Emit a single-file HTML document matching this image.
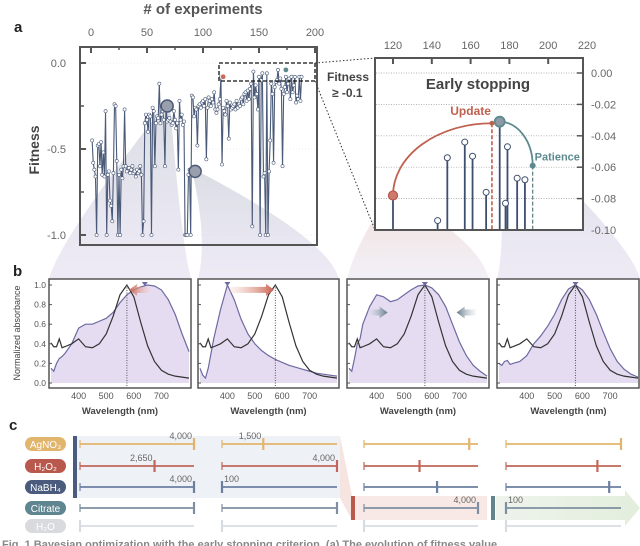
<!DOCTYPE html>
<html><head><meta charset="utf-8">
<style>
html,body{margin:0;padding:0;background:#fff;}
svg{display:block;font-family:"Liberation Sans",Arial,sans-serif;}
</style></head>
<body>
<svg id="fig" width="640" height="546" viewBox="0 0 640 546" xmlns="http://www.w3.org/2000/svg">
<defs>
<linearGradient id="gFan" x1="0" y1="0" x2="0" y2="1"><stop offset="0" stop-color="#cfd2dc" stop-opacity="0.75"/><stop offset="1" stop-color="#e3ddef" stop-opacity="0.6"/></linearGradient>
<linearGradient id="gFanR" x1="0" y1="0" x2="0" y2="1"><stop offset="0" stop-color="#e9c9c4" stop-opacity="0.6"/><stop offset="1" stop-color="#e6e2ee" stop-opacity="0.5"/></linearGradient>
<linearGradient id="gArrR" x1="0" y1="0" x2="1" y2="0"><stop offset="0" stop-color="#f3d6cc" stop-opacity="0.3"/><stop offset="1" stop-color="#c9604f"/></linearGradient>
<linearGradient id="gArrL" x1="1" y1="0" x2="0" y2="0"><stop offset="0" stop-color="#f3d6cc" stop-opacity="0.3"/><stop offset="1" stop-color="#c9604f"/></linearGradient>
<linearGradient id="gArrG" x1="0" y1="0" x2="1" y2="0"><stop offset="0" stop-color="#dde3e8" stop-opacity="0.3"/><stop offset="1" stop-color="#62788a"/></linearGradient>
<linearGradient id="gArrG2" x1="1" y1="0" x2="0" y2="0"><stop offset="0" stop-color="#dde3e8" stop-opacity="0.3"/><stop offset="1" stop-color="#62788a"/></linearGradient>
<linearGradient id="gGreen" x1="0" y1="0" x2="1" y2="0"><stop offset="0" stop-color="#eef3ec"/><stop offset="1" stop-color="#e3eedc"/></linearGradient>
</defs>
<g id="fans"></g>
<g id="main"></g>
<g id="inset"></g>
<g id="spectra"></g>
<g id="recipes"></g>
</svg>
<script>
// ---------- DATA ----------
const fitness = [-0.45,-0.58,-0.62,-0.66,-1.0,-0.48,-0.47,-0.60,-0.46,-0.65,
-0.52,-0.66,-0.28,-1.0,-0.65,-0.63,-0.80,-0.83,-0.92,-0.64,
-0.24,-0.25,-0.57,-1.0,-0.65,-1.0,-0.62,-0.67,-0.60,-0.27,
-0.60,-0.63,-0.61,-0.61,-0.64,-0.62,-0.60,-0.64,-0.63,-0.66,-0.62,-0.64,-0.63,-0.60,-0.65,
-1.0,-0.92,-0.35,-0.30,-0.33,-0.40,-0.30,-0.31,-1.0,-0.26,-0.28,-0.60,-0.35,-0.31,-0.32,
-0.12,-0.35,-0.30,-0.28,-0.33,-0.60,-0.24,-0.34,-0.33,-0.32,-0.34,-0.36,-0.35,-0.28,-0.33,
-0.38,-0.35,-0.62,-0.22,-0.33,-0.30,-0.36,-0.34,-1.0,-1.0,-1.0,-0.65,-0.62,-1.0,-0.19,
-0.20,-0.31,-0.26,-0.27,-0.48,-0.25,-0.24,-0.26,-0.23,-0.22,-0.25,-0.21,-0.56,-0.26,-0.20,
-0.22,-0.25,-0.21,-0.23,-0.17,-0.27,-0.29,-0.27,-0.24,-0.21,-0.08,-0.59,-0.26,-0.28,-0.30,
-0.22,-0.25,-0.44,-0.23,-0.27,-0.26,-0.25,-0.24,-0.27,-0.22,-0.26,-0.24,-0.25,-0.21,-0.20,
-0.24,-0.18,-0.17,-0.22,-0.16,-0.21,-0.15,-0.12,-0.95,-0.05,-0.20,-0.13,-0.18,-0.27,-0.08,
-1.0,-0.10,-0.06,-0.66,-0.64,-1.0,-0.06,-1.0,-0.63,-0.45,-0.12,-0.18,-0.58,-0.14,-0.11,
-0.10,-0.04,-0.12,-0.09,-0.15,-0.60,-0.18,-0.14,-0.08,-0.17,-0.12,-0.09,-0.21,-0.08,-0.17,
-0.13,-0.08,-0.23,-0.19,-0.21,-0.08,-0.22,-0.08];
const highlightX = [68, 93];
const highlightY = [-0.25, -0.63];
const mainXTicks = [0,50,100,150,200];
const mainYTicks = [0.0,-0.5,-1.0];
const mainYTickLabels = ["0.0","-0.5","-1.0"];

const insetX = [120,143,148,157,161,168,175,178,179,184,188];
const insetY = [-0.078,-0.094,-0.054,-0.044,-0.053,-0.076,-0.031,-0.083,-0.047,-0.067,-0.068];
const insetXTicks = [120,140,160,180,200,220];
const insetYTicks = [0,-0.02,-0.04,-0.06,-0.08,-0.10];
const insetYTickLabels = ["0.00","-0.02","-0.04","-0.06","-0.08","-0.10"];
const updateX = 171, patienceX = 192, patienceY = -0.059;

const wl = [300,310,320,330,340,350,375,400,425,450,475,500,525,550,575,600,625,650,675,700,725,750,775,800];
const refSpec = [.41,.37,.37,.45,.36,.37,.40,.45,.37,.36,.40,.50,.68,.90,1.0,.88,.62,.38,.22,.13,.09,.07,.06,.05];
const spec1 = [.15,.12,.20,.25,.27,.30,.40,.56,.60,.60,.63,.66,.72,.82,.90,.95,.98,1.0,.99,.95,.85,.70,.50,.32];
const spec2 = [.15,.08,.05,.15,.30,.45,.75,1.0,.85,.65,.50,.40,.33,.28,.24,.21,.18,.16,.14,.12,.10,.09,.08,.07];
const spec3 = [.15,.12,.25,.40,.45,.60,.78,.90,.88,.83,.85,.90,.95,.99,1.0,.97,.90,.78,.60,.42,.28,.18,.12,.07];
const spec4 = [.20,.18,.22,.23,.19,.20,.22,.28,.40,.48,.58,.70,.85,.96,1.0,.95,.85,.70,.52,.35,.22,.14,.09,.06];
const specPeaks = [640,400,575,575];
const wlTicks = [400,500,600,700];
const absTicks = [0,0.2,0.4,0.6,0.8,1.0];

const reagents = ["AgNO₃","H₂O₂","NaBH₄","Citrate","H₂O"];
const recipeVals = [[4000,1500,3700,4000],[2650,4000,2000,3200],[4000,100,2600,3600],[4000,4000,4000,100],[100,100,100,100]];
const recipeLabels = [["4,000","1,500","",""],["2,650","4,000","",""],["4,000","100","",""],["","","4,000","100"],["","","",""]];

// ---------- HELPERS ----------
const NS="http://www.w3.org/2000/svg";
function mk(parent,tag,attrs,text){const e=document.createElementNS(NS,tag);for(const k in attrs)e.setAttribute(k,attrs[k]);if(text!==undefined)e.textContent=text;parent.appendChild(e);return e;}

// ---------- MAIN CHART ----------
const main=document.getElementById('main');
const mx=v=>91+v*1.12, my=v=>63-v*172;
mk(main,'text',{x:203,y:14,'text-anchor':'middle','font-size':15,'font-weight':'bold',fill:'#555',},'# of experiments');
mk(main,'text',{x:14,y:32,'font-size':15,'font-weight':'bold',fill:'#222',},'a');
mk(main,'text',{x:0,y:0,transform:'translate(39,150) rotate(-90)','text-anchor':'middle','font-size':14,'font-weight':'bold',fill:'#444',},'Fitness');
mainXTicks.forEach(t=>{const e=mk(main,'text',{x:mx(t),y:36,'text-anchor':'middle','font-size':11,fill:'#666'},String(t));
 mk(main,'line',{x1:mx(t),x2:mx(t),y1:47,y2:53,stroke:'#555','stroke-width':2});});
[25,75,125,175].forEach(t=>mk(main,'line',{x1:mx(t),x2:mx(t),y1:47,y2:50,stroke:'#555','stroke-width':1.5}));
mainYTicks.forEach((t,i)=>{mk(main,'line',{x1:80,x2:86,y1:my(t),y2:my(t),stroke:'#555','stroke-width':2});
 mk(main,'line',{x1:86,x2:316,y1:my(t),y2:my(t),stroke:'#ddd','stroke-width':0.6,'stroke-dasharray':'1,2'});
 const e=mk(main,'text',{x:66,y:my(t)+4,'text-anchor':'end','font-size':11,fill:'#666'},mainYTickLabels[i]);});
[-0.25,-0.75].forEach(t=>mk(main,'line',{x1:80,x2:84,y1:my(t),y2:my(t),stroke:'#555','stroke-width':1.5}));
let pts=fitness.map((v,i)=>mx(i+1)+','+my(v)).join(' ');
const ln=mk(main,'polyline',{points:pts,fill:'none',stroke:'#4a5a78','stroke-width':1.1});

fitness.forEach((v,i)=>{const c=mk(main,'circle',{cx:mx(i+1),cy:my(v),r:1.6,fill:'#fff',stroke:'#4a5a78','stroke-width':0.6});
 });
highlightX.forEach((x,i)=>{const c=mk(main,'circle',{cx:mx(x),cy:my(highlightY[i]),r:6,fill:'#999fab',stroke:'#4a5a78','stroke-width':1.5});
 });
mk(main,'circle',{cx:mx(118),cy:my(-0.08),r:2.8,fill:'#c86a5c',stroke:'#fff','stroke-width':0.8,});
mk(main,'circle',{cx:mx(174),cy:my(-0.04),r:2.8,fill:'#5c8a8e',stroke:'#fff','stroke-width':0.8,});
mk(main,'rect',{x:80,y:47,width:237,height:198,fill:'none',stroke:'#555','stroke-width':2,});
mk(main,'rect',{x:219,y:63,width:96,height:18,fill:'none',stroke:'#111','stroke-width':1.3,'stroke-dasharray':'4,2',});
mk(main,'line',{x1:315,y1:63,x2:375,y2:58,stroke:'#333','stroke-dasharray':'1.5,2'});
mk(main,'line',{x1:315,y1:81,x2:375,y2:230,stroke:'#333','stroke-dasharray':'1.5,2'});
mk(main,'text',{x:327,y:81,'font-size':12,'font-weight':'bold',fill:'#444',},'Fitness');
mk(main,'text',{x:332,y:97,'font-size':12,'font-weight':'bold',fill:'#444'},'≥ -0.1');

// ---------- INSET ----------
const ins=document.getElementById('inset');
const ix=v=>393+(v-120)*1.94, iy=v=>73-v*1570;
mk(ins,'rect',{x:375,y:58,width:208,height:172,fill:'#fff'});
insetXTicks.forEach(t=>{const e=mk(ins,'text',{x:ix(t),y:49,'text-anchor':'middle','font-size':11,fill:'#666'},String(t));
 if(t<220)mk(ins,'line',{x1:ix(t),x2:ix(t),y1:58,y2:64,stroke:'#555','stroke-width':2});});
insetYTicks.forEach((t,i)=>{mk(ins,'line',{x1:376,x2:582,y1:iy(t),y2:iy(t),stroke:'#999','stroke-width':0.7,'stroke-dasharray':'1,1.5'});
 mk(ins,'line',{x1:577,x2:583,y1:iy(t),y2:iy(t),stroke:'#555','stroke-width':1.5});
 const e=mk(ins,'text',{x:591,y:iy(t)+4,'font-size':11,fill:'#666'},insetYTickLabels[i]);});
mk(ins,'text',{x:478,y:89,'text-anchor':'middle','font-size':15,'font-weight':'bold',fill:'#444',},'Early stopping');
const x0=ix(insetX[0]),y0=iy(insetY[0]),xu=ix(updateX),yu=iy(-0.032);
mk(ins,'path',{d:`M${x0},${y0} A${xu-x0},${y0-yu} 0 0 1 ${xu},${yu}`,fill:'none',stroke:'#c0604f','stroke-width':1.8,});
const xt=ix(insetX[6]),yt=iy(insetY[6]),xp=ix(patienceX),yp=iy(patienceY);
mk(ins,'path',{d:`M${xt},${yt} A${xp-xt},${yp-yt} 0 0 1 ${xp},${yp}`,fill:'none',stroke:'#5c8a8e','stroke-width':1.8,});
mk(ins,'line',{x1:xu,x2:xu,y1:yu,y2:230,stroke:'#c0604f','stroke-width':1.6,'stroke-dasharray':'4,2'});
mk(ins,'line',{x1:xp,x2:xp,y1:yp,y2:230,stroke:'#5c7a80','stroke-width':1.2,'stroke-dasharray':'4,2'});
insetX.forEach((x,i)=>{mk(ins,'line',{x1:ix(x),x2:ix(x),y1:iy(insetY[i]),y2:230,stroke:'#3e4f6e','stroke-width':1.8});});
insetX.forEach((x,i)=>{let c;
 if(i===0) c=mk(ins,'circle',{cx:ix(x),cy:iy(insetY[i]),r:4.5,fill:'#d07a6c',stroke:'#b4574a','stroke-width':1.2});
 else if(i===6) c=mk(ins,'circle',{cx:ix(x),cy:iy(insetY[i]),r:5,fill:'#8e9aa6',stroke:'#5c8a8e','stroke-width':1.8});
 else c=mk(ins,'circle',{cx:ix(x),cy:iy(insetY[i]),r:3,fill:'#fff',stroke:'#3e4f6e','stroke-width':1});
 });
mk(ins,'circle',{cx:xu,cy:yu,r:2.5,fill:'#c0604f'});
mk(ins,'circle',{cx:xp,cy:yp,r:3,fill:'#5c8a8e'});
mk(ins,'text',{x:xu-1,y:yu-8,'text-anchor':'end','font-size':12,'font-weight':'bold',fill:'#c0604f',},'Update');
mk(ins,'text',{x:xp+2,y:yp-5,'font-size':11,'font-weight':'bold',fill:'#5c8a8e',},'Patience');
mk(ins,'rect',{x:375,y:58,width:208,height:172,fill:'none',stroke:'#555','stroke-width':2,});

// ---------- FANS ----------
const fans=document.getElementById('fans');
const plotsX=[[49,191],[198,339],[347,489],[497,640]];
const fanSrc=[[mx(highlightX[0]),my(highlightY[0])],[mx(highlightX[1]),my(highlightY[1])],[x0,y0],[xt,yt]];
fanSrc.forEach((s,i)=>{const [a,b]=plotsX[i];
 const p=mk(fans,'path',{d:`M${s[0]-3},${s[1]} Q${a+10},${240} ${a},279 L${b},279 Q${b-10},240 ${s[0]+3},${s[1]} Z`,fill:i===2?'url(#gFanR)':'url(#gFan)'});
 });

// ---------- SPECTRA ----------
const sp=document.getElementById('spectra');
mk(sp,'text',{x:13,y:276,'font-size':15,'font-weight':'bold',fill:'#222',},'b');
mk(sp,'text',{x:0,y:0,transform:'translate(20,333) rotate(-90)','text-anchor':'middle','font-size':9,fill:'#444',},'Normalized absorbance');
const specs=[spec1,spec2,spec3,spec4];
const sy=v=>383-v*98;
plotsX.forEach(([a,b],k)=>{
 const sx=w=>a+2+(w-300)/500*(b-a-4);
 const g=mk(sp,'g',{});
 const s=specs[k];
 let d='M'+sx(wl[0])+','+sy(0)+' '+wl.map((w,i)=>'L'+sx(w)+','+sy(s[i])).join(' ')+' L'+sx(800)+','+sy(0)+'Z';
 mk(g,'path',{d:d,fill:'#e6dcf2'});
 mk(g,'polyline',{points:wl.map((w,i)=>sx(w)+','+sy(s[i])).join(' '),fill:'none',stroke:'#6d6aa0','stroke-width':1.2,});
 mk(g,'polyline',{points:wl.map((w,i)=>sx(w)+','+sy(refSpec[i])).join(' '),fill:'none',stroke:'#333','stroke-width':1.2,});
 mk(g,'line',{x1:sx(575),x2:sx(575),y1:sy(1),y2:388,stroke:'#555','stroke-dasharray':'1,1.5'});
 mk(g,'path',{d:`M${sx(specPeaks[k])-3},${sy(1)-3} L${sx(specPeaks[k])+3},${sy(1)-3} L${sx(specPeaks[k])},${sy(1)+1}Z`,fill:'#6d6aa0'});
 wlTicks.forEach(t=>{const e=mk(g,'text',{x:sx(t),y:399,'text-anchor':'middle','font-size':9,fill:'#555'},String(t));});
 mk(g,'text',{x:(a+b)/2,y:414,'text-anchor':'middle','font-size':9.5,'font-weight':'bold',fill:'#444',},'Wavelength (nm)');
 absTicks.forEach(t=>{mk(g,'line',{x1:a,x2:a+3,y1:sy(t),y2:sy(t),stroke:'#555'});
  if(k===0){const e=mk(g,'text',{x:a-3,y:sy(t)+3,'text-anchor':'end','font-size':8.5,fill:'#555'},t.toFixed(1));}});
 mk(g,'rect',{x:a,y:279,width:b-a-(k===3?1:0),height:109,fill:'none',stroke:'#555','stroke-width':1.5});
 function arrow(x1,x2,y,fill){const dir=x2>x1?1:-1;const h=x2-dir*8;
  mk(g,'path',{d:`M${x1},${y-3} L${h},${y-3} L${h},${y-6} L${x2},${y} L${h},${y+6} L${h},${y+3} L${x1},${y+3}Z`,fill:fill,});}
 if(k===0)arrow(sx(660),sx(583),sy(0.95),'url(#gArrL)');
 if(k===1)arrow(sx(410),sx(570),sy(0.95),'url(#gArrR)');
 if(k===2){arrow(sx(370),sx(440),sy(0.72),'url(#gArrG)');arrow(sx(760),sx(690),sy(0.72),'url(#gArrG2)');}
});

// ---------- RECIPES ----------
const rc=document.getElementById('recipes');
mk(rc,'text',{x:9,y:430,'font-size':15,'font-weight':'bold',fill:'#222',},'c');
const rowY=[444,466,487,508,526];
const cols=[[80,194],[222,337],[364,478],[506,621]];
const rcol=['#e2b56c','#c0665a','#6b7fa0','#7d8fa0','#d8dce2'];
const pill=['#e2b56c','#b9584c','#4b5b7e','#5f8590','#d8dade'];
mk(rc,'rect',{x:75,y:436,width:265,height:62,fill:'#eef1f5',});
mk(rc,'path',{d:'M340,436 L352,496 L352,520 L340,498Z',fill:'#f6e4e1'});
mk(rc,'rect',{x:352,y:496,width:135,height:24,fill:'#f8e9e6',});
mk(rc,'path',{d:'M496,496 L625,496 L625,490 L640,508 L625,526 L625,520 L496,520Z',fill:'url(#gGreen)',});
mk(rc,'rect',{x:73,y:436,width:4,height:62,fill:'#4b5b7e'});
mk(rc,'rect',{x:351,y:496,width:4,height:24,fill:'#b9584c'});
mk(rc,'rect',{x:491,y:496,width:4,height:24,fill:'#5f8590'});
reagents.forEach((r,i)=>{
 const y=rowY[i];
 const pr=mk(rc,'rect',{x:25,y:y-7,width:41,height:14,rx:7,fill:pill[i]});
 
 const t=mk(rc,'text',{x:45.5,y:y+4,'text-anchor':'middle','font-size':10,fill:'#fff'},r);
 
 cols.forEach(([a,b],c)=>{
  mk(rc,'line',{x1:a,x2:b,y1:y,y2:y,stroke:rcol[i],'stroke-width':1.8});
  mk(rc,'line',{x1:a,x2:a,y1:y-4,y2:y+4,stroke:rcol[i],'stroke-width':1.2});
  const v=recipeVals[i][c];const tx=a+(v-100)/3900*(b-a);
  const tk=mk(rc,'line',{x1:tx,x2:tx,y1:y-6,y2:y+6,stroke:rcol[i],'stroke-width':2.2});
  
  if(recipeLabels[i][c]){const lb=mk(rc,'text',{x:v<1000?tx+2:tx-2,y:y-5,'text-anchor':v<1000?'start':'end','font-size':9,fill:'#666'},recipeLabels[i][c]);
   }
 });
});
mk(rc,'text',{x:2,y:548,'font-size':11,'font-weight':'bold',fill:'#888',},'Fig. 1 Bayesian optimization with the early stopping criterion. (a) The evolution of fitness value');
</script>
</body></html>
